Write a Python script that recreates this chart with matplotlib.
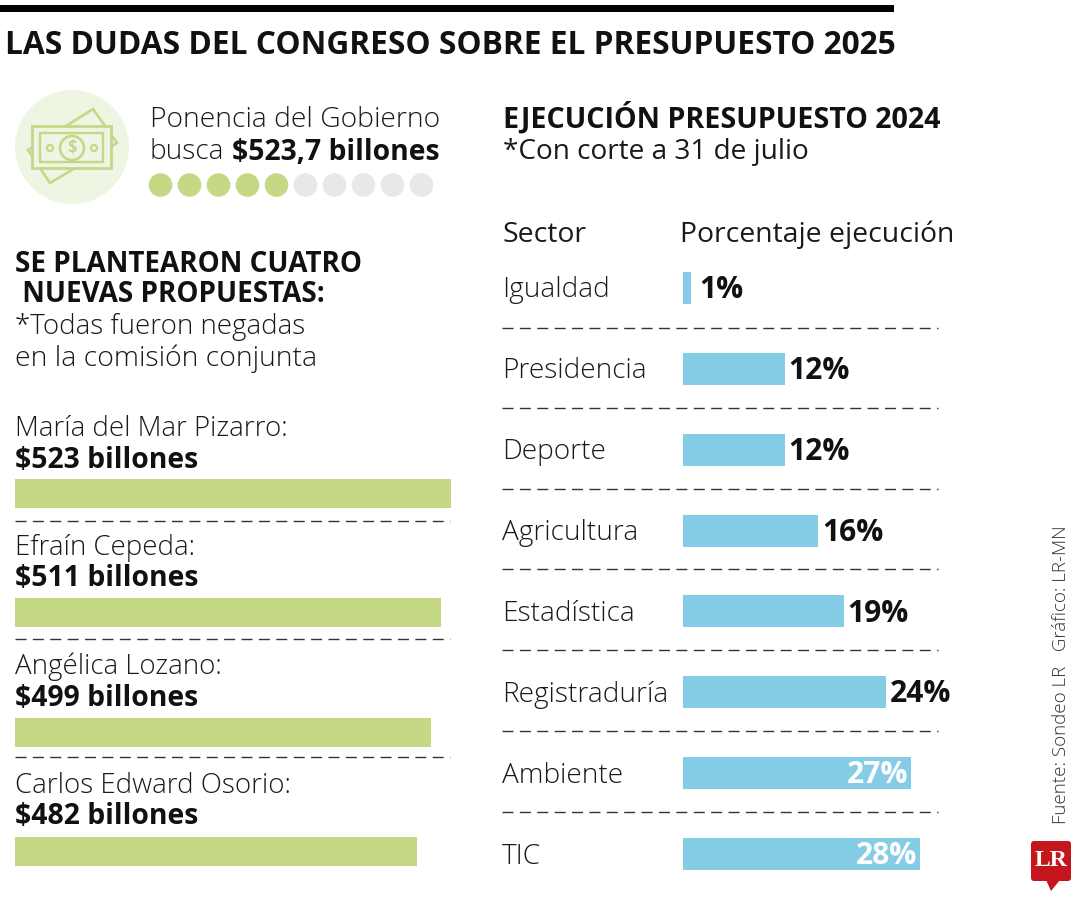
import matplotlib
matplotlib.use("Agg")
import matplotlib.pyplot as plt
from matplotlib.patches import Circle, Rectangle, FancyBboxPatch, Polygon

plt.rcParams["font.family"] = ["Open Sans", "DejaVu Sans"]

W, H = 1080, 900
GREEN = "#c5d985"
BLUE = "#85cce6"
GREY_DOT = "#e8e8e8"
PALE = "#eff5e3"
ICON = "#c2d98a"
DASH = (0, (11 / 1.39, 6.4 / 1.39))

names = ["María del Mar Pizarro:", "Efraín Cepeda:", "Angélica Lozano:", "Carlos Edward Osorio:"]
amounts = [523, 511, 499, 482]
sectors = ["Igualdad", "Presidencia", "Deporte", "Agricultura", "Estadística", "Registraduría", "Ambiente", "TIC"]
percents = [1, 12, 12, 16, 19, 24, 27, 28]
filled_dots = 5
total_dots = 10

fig = plt.figure(figsize=(W / 100, H / 100), dpi=100)

# page axes in pixel coordinates, for the text and rules
bg = fig.add_axes([0, 0, 1, 1])
bg.set_xlim(0, W)
bg.set_ylim(H, 0)
bg.axis("off")


def pixel_axes(x0, y0, x1, y1):
    ax = fig.add_axes([x0 / W, 1 - y1 / H, (x1 - x0) / W, (y1 - y0) / H])
    ax.axis("off")
    return ax


def txt(x, y, s, size=20.2, weight="light", **kw):
    kw.setdefault("va", "center")
    kw.setdefault("color", "#1a1a1a")
    return bg.text(x, y + 3, s, fontsize=size, fontweight=weight, parse_math=False, **kw)


# header
bg.add_patch(Rectangle((0, 5), 894, 6.5, color="black", lw=0))
txt(5, 43, "LAS DUDAS DEL CONGRESO SOBRE EL PRESUPUESTO 2025", size=22.77, weight="bold", color="#111111")

# money icon
bg.add_patch(Circle((72, 147), 57, color=PALE, lw=0))
bg.add_patch(Polygon([[93, 109], [28, 150], [50, 183], [117, 143]], fill=False, ec=ICON, lw=1.9))
bg.add_patch(Rectangle((32, 126), 79, 42, fc=PALE, ec=ICON, lw=2))
bg.add_patch(Rectangle((40, 133), 63, 29, fill=False, ec=ICON, lw=1.7))
bg.add_patch(Circle((72, 148), 12, fc=PALE, ec=ICON, lw=1.9))
bg.add_patch(Circle((50, 148), 3, fill=False, ec=ICON, lw=1.6))
bg.add_patch(Circle((94, 148), 3, fill=False, ec=ICON, lw=1.6))
txt(72, 145, "$", size=12, weight="bold", color=ICON, ha="center")

txt(150, 117, "Ponencia del Gobierno", size=20.3)
txt(150, 149, "busca")
txt(232, 149, "$523,7 billones", size=20.4, weight="bold", color="#111111")

for i in range(total_dots):
    bg.add_patch(Circle((160.5 + i * 29, 185), 11.8, color=GREEN if i < filled_dots else GREY_DOT, lw=0))

# left block
txt(15, 261, "SE PLANTEARON CUATRO", weight="bold", size=20.1, color="#111111")
txt(15, 292, " NUEVAS PROPUESTAS:", weight="bold", size=20.1, color="#111111")
txt(15, 324, "*Todas fueron negadas", size=19.9)
txt(15, 356, "en la comisión conjunta", size=20.5)

left_ax = pixel_axes(15, 479, 455, 866)
left_ax.barh(range(len(amounts)), amounts, height=0.243, color=GREEN)
left_ax.set_xlim(0, 440 / 0.8337)
left_ax.set_ylim(3 + 0.1215, -0.1215)

for i, name in enumerate(names):
    y = 426 + i * 119
    txt(15, y, name, size=19.9)
    txt(15, y + 31, f"${amounts[i]} billones", size=20.4, weight="bold", color="#111111")
for y in [521, 639, 757]:
    bg.plot([15, 450], [y, y], color="#333333", lw=1, ls=DASH)

# right block
txt(503, 115, "EJECUCIÓN PRESUPUESTO 2024", weight="bold", size=20.6, color="#111111")
txt(503, 149, "*Con corte a 31 de julio", weight="normal")
txt(503, 232, "Sector", weight="normal", size=20.4)
txt(680, 232, "Porcentaje ejecución", weight="normal", size=20.4)

right_ax = pixel_axes(683, 272, 953, 870)
right_ax.barh(range(len(percents)), percents, height=0.397, color=BLUE)
right_ax.set_xlim(0, 270 / 8.46)
right_ax.set_ylim(7 + 0.1985, -0.1985)

for i, (sector, pct) in enumerate(zip(sectors, percents)):
    txt(502, 287 + i * 81, sector, size=20.2)
    if pct >= 25:
        right_ax.annotate(f"{pct}%", (pct, i), xytext=(-2, -1.5), textcoords="offset points", ha="right",
                          va="center", fontsize=21.6, fontweight="bold", color="white")
    else:
        # the 1% bar label sits a little further from its narrow bar
        gap = 5.5 if pct == 1 else 2.5
        right_ax.annotate(f"{pct}%", (pct, i), xytext=(gap, -1.5), textcoords="offset points", ha="left",
                          va="center", fontsize=21.6, fontweight="bold", color="#111111")
for y in [328, 408, 489, 569, 650, 731, 812]:
    bg.plot([502, 938], [y, y], color="#333333", lw=1, ls=DASH)

# source and logo
txt(1061, 821, "Fuente: Sondeo LR   Gráfico: LR-MN", size=13.5, rotation=90, ha="center", va="bottom", color="#333333")
bg.add_patch(FancyBboxPatch((1031, 841), 40, 40, boxstyle="round,pad=0,rounding_size=3", color="#c4161c", lw=0))
bg.add_patch(Polygon([[1046, 880], [1060, 880], [1051, 891]], color="#c4161c", lw=0))
bg.text(1051, 860, "LR", fontsize=17, fontweight="bold", family="Liberation Serif", color="white", ha="center", va="center")

fig.savefig("out.png", dpi=100, facecolor="white")
